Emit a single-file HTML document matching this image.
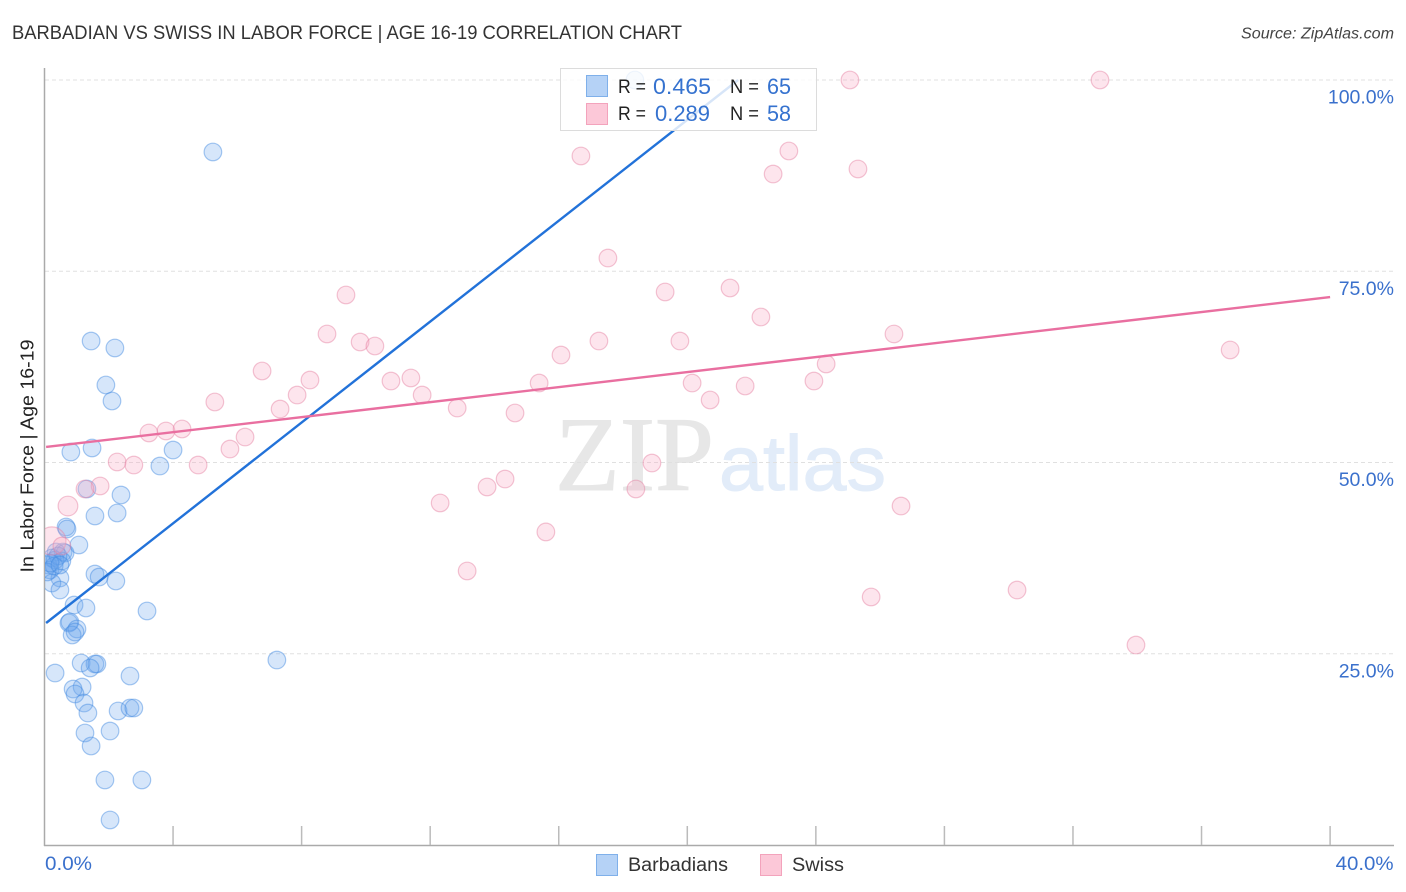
<!DOCTYPE html>
<html lang="en">
<head>
<meta charset="utf-8">
<title>Barbadian vs Swiss in Labor Force | Age 16-19 Correlation Chart</title>
<style>
html,body{margin:0;padding:0;background:#fff;width:1406px;height:892px;overflow:hidden}
svg{display:block;font-family:"Liberation Sans",sans-serif}
</style>
</head>
<body>
<svg id="chart" width="1406" height="892" viewBox="0 0 1406 892" xmlns="http://www.w3.org/2000/svg">
  <defs><clipPath id="plot-clip"><rect x="45" y="60" width="1350" height="785"/></clipPath></defs>
  <rect width="1406" height="892" fill="#fff"/>
  <text x="12" y="39" font-size="19" fill="#333" textLength="670" lengthAdjust="spacingAndGlyphs">BARBADIAN VS SWISS IN LABOR FORCE | AGE 16-19 CORRELATION CHART</text>
  <text x="1241" y="38.500" font-size="15.500" font-style="italic" fill="#444" textLength="153" lengthAdjust="spacingAndGlyphs">Source: ZipAtlas.com</text>
  <g>
    <text x="555" y="490" font-family="'Liberation Serif',serif" font-size="106" fill="#e7e7e7" stroke="#e7e7e7" stroke-width="1" textLength="159" lengthAdjust="spacingAndGlyphs">ZIP</text>
    <text x="719" y="490" font-size="78" fill="#e2ecf9" stroke="#e2ecf9" stroke-width="1" textLength="167" lengthAdjust="spacingAndGlyphs">atlas</text>
  </g>
  <g id="grid"></g>
  <g id="axes"></g>
  <text transform="translate(33.500,456) rotate(-90)" font-size="18.500" fill="#222" text-anchor="middle" textLength="233" lengthAdjust="spacingAndGlyphs">In Labor Force | Age 16-19</text>
  <g id="points-blue" clip-path="url(#plot-clip)"></g>
  <g id="points-pink" clip-path="url(#plot-clip)"></g>
  <g id="trends"></g>

  <g>
    <rect x="560.500" y="68.500" width="256" height="62" fill="#fff" fill-opacity="0.82" stroke="#dcdcdc" stroke-width="1"/>
    <rect x="586.500" y="75.500" width="21" height="21" fill="#b5d2f6" stroke="#7fb0ea" stroke-width="1"/>
    <rect x="586.500" y="103.500" width="21" height="21" fill="#fcc8d8" stroke="#f3a3bc" stroke-width="1"/>
    <text x="618" y="93" font-size="19" fill="#222" textLength="28" lengthAdjust="spacingAndGlyphs">R =</text>
    <text x="653" y="94" font-size="22" fill="#3572cf" textLength="58" lengthAdjust="spacingAndGlyphs">0.465</text>
    <text x="730" y="93" font-size="19" fill="#222" textLength="29" lengthAdjust="spacingAndGlyphs">N =</text>
    <text x="767" y="94" font-size="22" fill="#3572cf" textLength="24" lengthAdjust="spacingAndGlyphs">65</text>
    <text x="618" y="120" font-size="19" fill="#222" textLength="28" lengthAdjust="spacingAndGlyphs">R =</text>
    <text x="655" y="121" font-size="22" fill="#3572cf" textLength="55" lengthAdjust="spacingAndGlyphs">0.289</text>
    <text x="730" y="120" font-size="19" fill="#222" textLength="29" lengthAdjust="spacingAndGlyphs">N =</text>
    <text x="767" y="121" font-size="22" fill="#3572cf" textLength="24" lengthAdjust="spacingAndGlyphs">58</text>
  </g>

  <g>
    <rect x="596.500" y="854.500" width="21" height="21" fill="#b5d2f6" stroke="#7fb0ea" stroke-width="1"/>
    <text x="628" y="871" font-size="19" fill="#333" textLength="100" lengthAdjust="spacingAndGlyphs">Barbadians</text>
    <rect x="760.500" y="854.500" width="21" height="21" fill="#fcc8d8" stroke="#f3a3bc" stroke-width="1"/>
    <text x="792" y="871" font-size="19" fill="#333" textLength="52" lengthAdjust="spacingAndGlyphs">Swiss</text>
  </g>
</svg>
<script>
const yTickValues = [25, 50, 75, 100];
const yTickLabels = ["25.0%", "50.0%", "75.0%", "100.0%"];
const xTickValues = [4, 8, 12, 16, 20, 24, 28, 32, 36, 40];
const xEndValues = [0, 40];
const xEndLabels = ["0.0%", "40.0%"];

const barbadiansX = [5.24,18.37,1.45,2.19,1.91,2.10,0.82,1.48,4.00,3.59,1.32,2.38,1.57,2.26,0.67,0.70,1.07,0.36,0.58,0.64,0.23,0.54,0.11,0.33,1.57,1.70,2.22,0.17,0.48,0.23,0.48,0.92,1.29,3.19,0.76,0.79,1.01,0.86,0.95,7.23,1.14,1.57,1.63,1.42,0.33,2.66,1.17,0.89,0.95,1.23,1.35,2.29,2.66,2.78,1.26,2.04,1.45,1.88,3.03,2.04,0.42,0.30,0.08,0.17,0.48];
const barbadiansY = [90.59,100,65.88,64.97,60.13,58.04,51.37,51.90,51.63,49.54,46.54,45.75,43.01,43.40,41.57,41.31,39.22,38.30,38.30,38.17,37.52,37.12,36.60,37.25,35.42,35.03,34.51,35.95,34.90,34.25,33.33,31.37,30.98,30.59,29.02,29.15,28.24,27.45,27.84,24.18,23.79,23.66,23.66,23.14,22.48,22.09,20.65,20.39,19.74,18.56,17.25,17.52,17.91,17.91,14.64,14.90,12.94,8.50,8.50,3.27,37.78,36.47,35.69,36.86,36.60];

const swissX = [25.06,32.84,16.69,23.16,22.67,25.31,17.53,19.31,21.33,9.38,8.79,22.29,26.43,9.82,10.28,17.25,19.77,16.07,36.89,6.77,24.32,8.26,11.40,10.78,15.39,20.15,21.80,23.94,7.86,11.75,20.71,5.30,7.33,12.84,14.64,3.25,3.78,4.28,6.24,5.77,2.26,2.78,4.78,18.90,1.73,1.26,14.33,13.77,18.40,0.73,12.31,26.65,15.60,0.23,0.54,13.15,25.72,30.26,33.96];
const swissY = [100,100,90.07,90.72,87.71,88.37,76.73,72.29,72.81,71.90,66.80,69.02,66.80,65.75,65.23,65.88,65.88,64.05,64.71,61.96,62.88,60.78,61.05,60.65,60.39,60.39,60.00,60.65,58.82,58.82,58.17,57.91,56.99,57.12,56.47,53.86,54.12,54.38,53.33,51.76,50.07,49.67,49.67,49.93,46.93,46.54,47.84,46.80,46.54,44.31,44.71,44.31,40.92,39.74,39.08,35.82,32.42,33.33,26.14];
const swissWeight = [1,1,1,1,1,1,1,1,1,1,1,1,1,1,1,1,1,1,1,1,1,1,1,1,1,1,1,1,1,1,1,1,1,1,1,1,1,1,1,1,1,1,1,1,1,1,1,1,1,1.15,1,1,1,1.8,1,1,1,1,1];

const barbadiansTrendX = [0.05, 21.58];
const barbadiansTrendY = [29.02, 100];
const swissTrendX = [0.05, 40];
const swissTrendY = [52.03, 71.63];

const SVG_NS = "http://www.w3.org/2000/svg";
const xScale = v => 44.5 + v * 32.14;
const yScale = v => 845 - v * 7.65;
function make(tag, parentId, attrs) {
  const el = document.createElementNS(SVG_NS, tag);
  for (const k in attrs) el.setAttribute(k, attrs[k]);
  document.getElementById(parentId).appendChild(el);
  return el;
}

yTickValues.forEach((v, i) => {
  const line = make("line", "grid", {x1: 45, x2: 1394, y1: yScale(v), y2: yScale(v), stroke: "#e0e0e0", "stroke-width": 1, "stroke-dasharray": "4 3"});
  
  
  const label = make("text", "axes", {x: 1394, y: yScale(v) + 23.5, "font-size": 19.5, fill: "#3a70cc", "text-anchor": "end"});
  label.textContent = yTickLabels[i];
  
  
});

const yAxisLine = make("line", "axes", {x1: 44.5, x2: 44.5, y1: 68, y2: 846, stroke: "#aaa", "stroke-width": 1.5});


const xAxisLine = make("line", "axes", {x1: 44, x2: 1394, y1: 845.5, y2: 845.5, stroke: "#aaa", "stroke-width": 1.5});



xTickValues.forEach(v => {
  const tick = make("line", "axes", {x1: xScale(v), x2: xScale(v), y1: 826, y2: 845, stroke: "#bbb", "stroke-width": 1.5});
  
  
});

xEndValues.forEach((v, i) => {
  const label = make("text", "axes", {x: i === 0 ? xScale(v) + 0.5 : xScale(v) + 5.5, y: 870, "font-size": 19.5, fill: "#3a70cc", textLength: i === 0 ? 47 : 58, lengthAdjust: "spacingAndGlyphs"});
  label.textContent = xEndLabels[i];
  
  
});

barbadiansX.forEach((v, i) => {
  const dot = make("circle", "points-blue", {cx: xScale(v), cy: yScale(barbadiansY[i]), r: 8.8, fill: "#6aa5ee", "fill-opacity": 0.28, stroke: "#3f87e0", "stroke-opacity": 0.45, "stroke-width": 1.2});
  
  
});

swissX.forEach((v, i) => {
  const dot = make("circle", "points-pink", {cx: xScale(v), cy: yScale(swissY[i]), r: 8.8 * swissWeight[i] ** 0.8, fill: "#f7a8c2", "fill-opacity": 0.3, stroke: "#e47fa0", "stroke-opacity": 0.45, "stroke-width": 1.2});
  
  
});

const barbadiansTrend = make("line", "trends", {x1: xScale(barbadiansTrendX[0]), y1: yScale(barbadiansTrendY[0]), x2: xScale(barbadiansTrendX[1]), y2: yScale(barbadiansTrendY[1]), stroke: "#2272d9", "stroke-width": 2.4});


const swissTrend = make("line", "trends", {x1: xScale(swissTrendX[0]), y1: yScale(swissTrendY[0]), x2: xScale(swissTrendX[1]), y2: yScale(swissTrendY[1]), stroke: "#e96fa0", "stroke-width": 2.4});


</script>
</body>
</html>
